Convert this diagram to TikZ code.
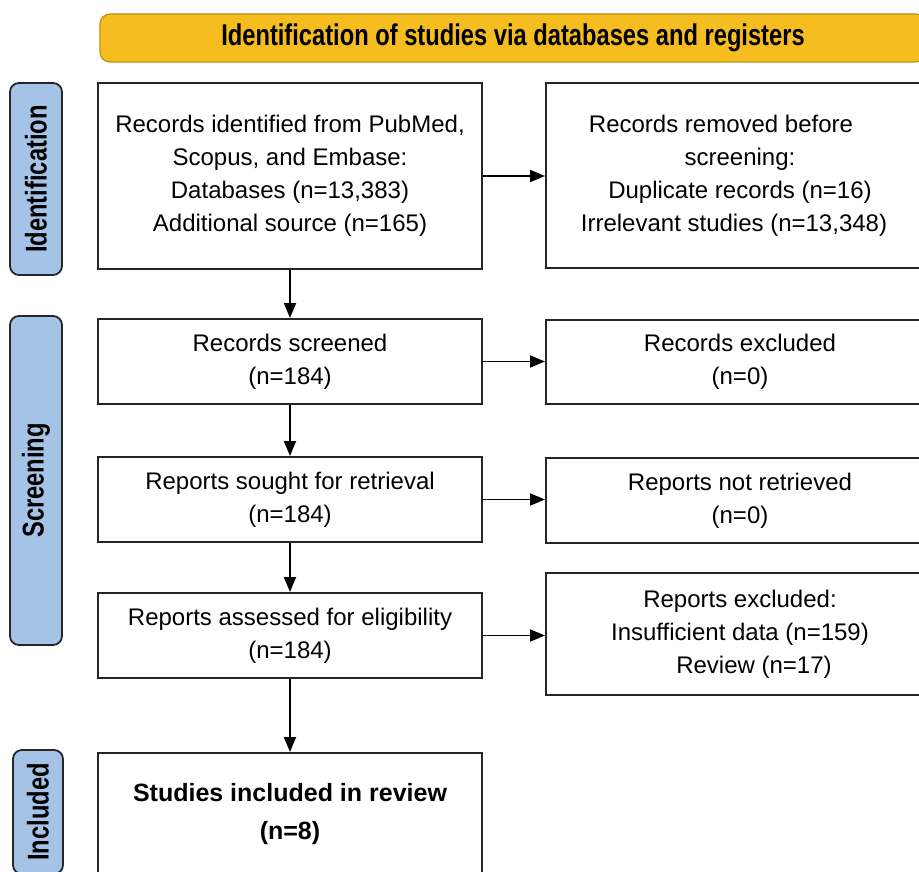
\documentclass[tikz,border=0pt]{standalone}
\usepackage{fontspec}
\setmainfont{Liberation Sans}
\newfontfamily\condfont[FakeStretch=0.79]{Liberation Sans}
\usetikzlibrary{arrows.meta}
\definecolor{bannerfill}{HTML}{F5BD1F}
\definecolor{bannerdraw}{HTML}{C2900E}
\definecolor{phasefill}{HTML}{A5C3E6}
\definecolor{linegray}{HTML}{262626}
\tikzset{
  flowbox/.style={draw=linegray, line width=2pt, fill=white, align=center, inner sep=0pt,
    font=\fontsize{24}{33}\selectfont, minimum width=384pt},
  sidebox/.style={flowbox, minimum width=388pt},
  phasebox/.style={draw=linegray, line width=1.8pt, fill=phasefill, rounded corners=9pt, inner sep=0pt},
  phasetext/.style={rotate=90, inner sep=0pt, font=\condfont\bfseries\fontsize{30}{34}\selectfont},
  flowarrow/.style={draw=black, line width=1.9pt, -{Triangle[length=15pt,width=12pt]}},
}
\begin{document}
\begin{tikzpicture}[x=1pt,y=-1pt]
\clip (0,0) rectangle (919,872);
\fill[white] (0,0) rectangle (919,872);

% banner
\node[draw=bannerdraw, line width=1.2pt, fill=bannerfill, rounded corners=10pt,
  minimum width=826pt, minimum height=48pt, inner sep=0pt,
  font=\condfont\bfseries\fontsize{30}{34}\selectfont] (banner) at (513,38)
  {Identification of studies via databases and registers};

% phase labels
\node[phasebox, minimum width=52pt, minimum height=192pt] (pid) at (36,179) {};
\node[phasetext] (pidt) at (pid) {Identification};
\node[phasebox, minimum width=52pt, minimum height=329pt] (psc) at (36,480.5) {};
\node[phasetext] (psct) at (psc) {Screening};
\node[phasebox, minimum width=50pt, minimum height=124pt] (pin) at (38,812) {};
\node[phasetext] (pint) at (pin) {Included};

% left column
\node[flowbox, minimum height=186pt] (b1) at (290,176)
  {Records identified from PubMed,\\Scopus, and Embase:\\Databases (n=13,383)\\Additional source (n=165)};
\node[flowbox, minimum height=85pt] (b2) at (290,361.5) {Records screened\\(n=184)};
\node[flowbox, minimum height=85pt] (b3) at (290,499.5) {Reports sought for retrieval\\(n=184)};
\node[flowbox, minimum height=85pt] (b4) at (290,635.5) {Reports assessed for eligibility\\(n=184)};
\node[flowbox, minimum height=122pt, font=\bfseries\fontsize{25}{38}\selectfont] (b5) at (290,814)
  {Studies included in review\\(n=8)};

% right column
\node[sidebox, minimum height=185pt] (r1) at (740,175.5)
  {Records removed before\hspace*{38pt}\\screening:\hspace*{38pt}\\Duplicate records (n=16)\hspace*{12pt}\\Irrelevant studies (n=13,348)\hspace*{12pt}};
\node[sidebox, minimum height=84pt] (r2) at (740,362) {Records excluded\\(n=0)};
\node[sidebox, minimum height=85pt] (r3) at (740,500.5) {Reports not retrieved\\(n=0)};
\node[sidebox, minimum height=122pt] (r4) at (740,634)
  {Reports excluded:\\Insufficient data (n=159)\hspace*{8pt}\\\hspace*{28pt}Review (n=17)};

% vertical arrows
\draw[flowarrow] (b1.south) -- (b2.north);
\draw[flowarrow] (b2.south) -- (b3.north);
\draw[flowarrow] (b3.south) -- (b4.north);
\draw[flowarrow] (b4.south) -- (b5.north);

% horizontal arrows
\draw[flowarrow] (b1.east) -- (b1.east -| r1.west);
\draw[flowarrow] (b2.east) -- (b2.east -| r2.west);
\draw[flowarrow] (b3.east) -- (b3.east -| r3.west);
\draw[flowarrow] (b4.east) -- (b4.east -| r4.west);
\end{tikzpicture}
\end{document}
